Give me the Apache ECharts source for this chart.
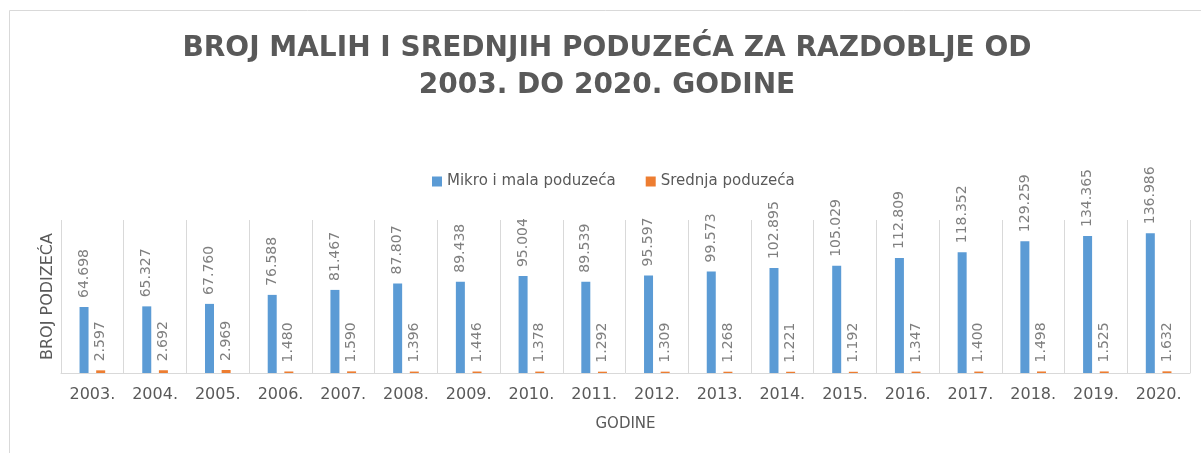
<!DOCTYPE html>
<html>
<head>
<meta charset="utf-8">
<title>Broj malih i srednjih poduzeća</title>
<script src="https://cdn.jsdelivr.net/npm/echarts@6/dist/echarts.min.js"></script>
<style>
  html, body { margin: 0; padding: 0; background: #fff; }
  #myChart { width: 1201px; height: 453px; }
</style>
</head>
<body>
<div id="myChart"></div>
<script>
// podaci sa slike
var godine = ['2003.', '2004.', '2005.', '2006.', '2007.', '2008.', '2009.', '2010.', '2011.',
  '2012.', '2013.', '2014.', '2015.', '2016.', '2017.', '2018.', '2019.', '2020.'];
var mikroMala = [64698, 65327, 67760, 76588, 81467, 87807, 89438, 95004, 89539,
  95597, 99573, 102895, 105029, 112809, 118352, 129259, 134365, 136986];
var srednja = [2597, 2692, 2969, 1480, 1590, 1396, 1446, 1378, 1292,
  1309, 1268, 1221, 1192, 1347, 1400, 1498, 1525, 1632];
var nazivi = ['Mikro i mala poduzeća', 'Srednja poduzeća'];
var boje = ['#5B9BD5', '#ED7D31'];
var naslov = 'BROJ MALIH I SREDNJIH PODUZEĆA ZA RAZDOBLJE OD\n2003. DO 2020. GODINE';

var sivaTekst = '#595959';
var fontFam = 'DejaVu Sans';

// 64698 -> "64.698"
function formatBroj(p) {
  return (p.value / 1000).toFixed(3);
}

function labelStyle() {
  return {
    show: true,
    position: 'top',
    distance: 9,
    rotate: 90,
    align: 'left',
    verticalAlign: 'middle',
    color: '#7F7F7F',
    fontSize: 14,
    fontFamily: fontFam,
    formatter: formatBroj,
  };
}

var chartInst = echarts.init(document.getElementById('myChart'));
chartInst.setOption({
  animation: false,
  legend: {
    data: nazivi,
    left: 427,
    top: 169,
    icon: 'rect',
    itemWidth: 10,
    itemHeight: 10,
    itemGap: 30,
    textStyle: {
      color: sivaTekst,
      fontSize: 15,
      fontFamily: fontFam,
    },
  },
  grid: {
    left: 61,
    right: 11,
    top: 220,
    bottom: 80,
  },
  xAxis: {
    type: 'category',
    data: godine,
    name: 'GODINE',
    nameLocation: 'middle',
    nameGap: 44,
    nameTextStyle: {
      color: sivaTekst,
      fontSize: 15,
      fontFamily: fontFam,
    },
    axisTick: { show: false },
    axisLine: {
      lineStyle: { color: '#D9D9D9', width: 1 },
    },
    axisLabel: {
      color: sivaTekst,
      fontSize: 16,
      fontFamily: fontFam,
      margin: 14,
      interval: 0,
    },
    // okomite crte izmedju godina
    splitLine: {
      show: true,
      interval: 0,
      lineStyle: { color: '#D9D9D9', width: 1 },
    },
  },
  yAxis: {
    type: 'value',
    min: 0,
    max: 150000,
    name: 'BROJ PODIZEĆA',
    nameLocation: 'middle',
    nameGap: 5,
    nameTextStyle: {
      color: sivaTekst,
      fontSize: 16,
      fontFamily: fontFam,
    },
    axisLine: { show: false },
    axisTick: { show: false },
    axisLabel: { show: false },
    splitLine: { show: false },
  },
  graphic: [
    {
      // okvir grafikona
      type: 'rect',
      shape: { x: 9.5, y: 10.5, width: 1300, height: 500 },
      style: { fill: 'none', stroke: '#D9D9D9', lineWidth: 1 },
      silent: true,
    },
    {
      // naslov, centriran malo desno kao na slici
      type: 'text',
      x: 607,
      y: 30,
      style: {
        text: naslov,
        align: 'center',
        verticalAlign: 'top',
        fill: sivaTekst,
        fontSize: 28,
        fontWeight: 'bold',
        fontFamily: fontFam,
        lineHeight: 37,
      },
    },
  ],
  series: [
    {
      name: nazivi[0],
      type: 'bar',
      data: mikroMala,
      barWidth: 9,
      barGap: '85%',
      itemStyle: { color: boje[0] },
      label: labelStyle(),
    },
    {
      name: nazivi[1],
      type: 'bar',
      data: srednja,
      barWidth: 9,
      itemStyle: { color: boje[1] },
      label: labelStyle(),
    },
  ],
});
</script>
</body>
</html>
